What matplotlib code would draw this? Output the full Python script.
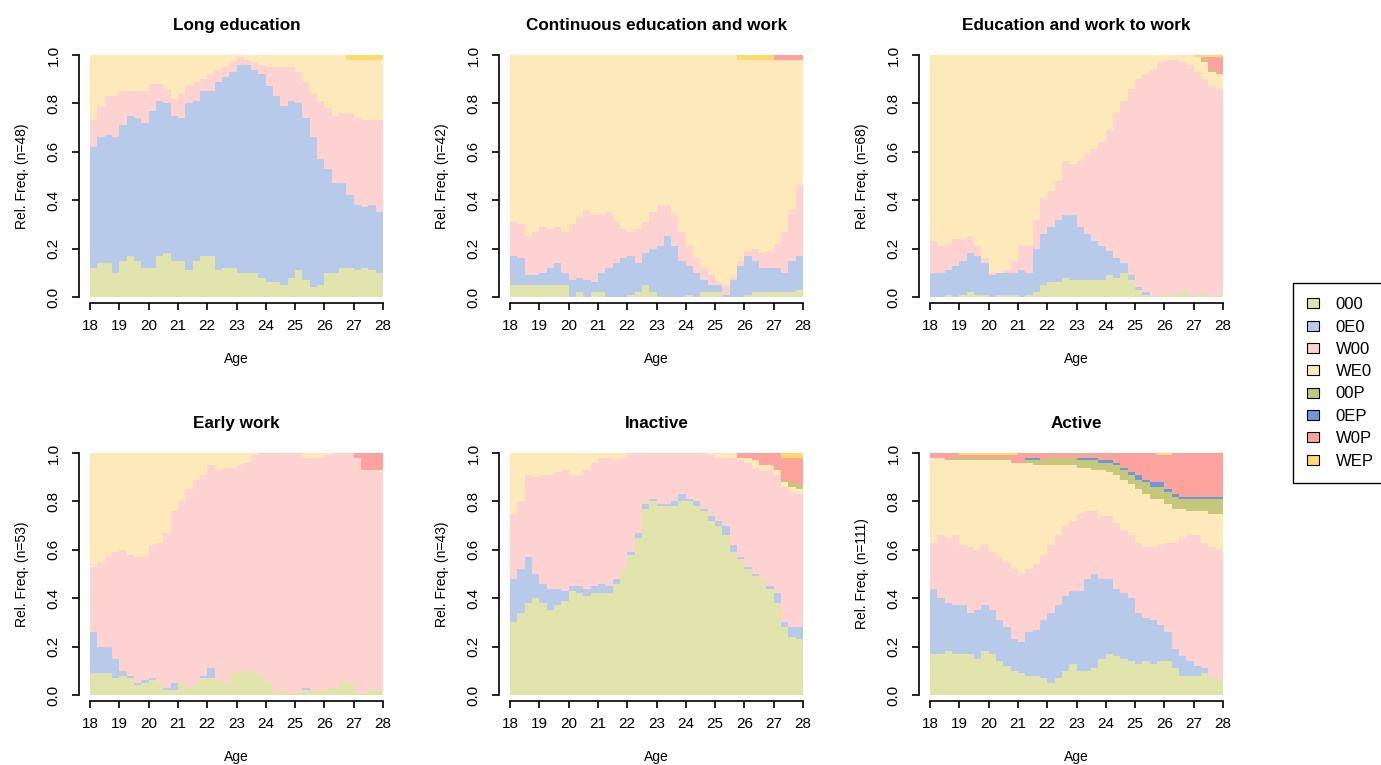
import numpy as np
import matplotlib.pyplot as plt
from matplotlib.patches import Patch

plt.rcParams['font.family'] = ['Liberation Sans', 'DejaVu Sans']

# states (bottom to top) and their colours
states = ["000", "0E0", "W00", "WE0", "00P", "0EP", "W0P", "WEP"]
state_colors = ["#E2E4AD", "#B8CAE9", "#FDD2D0", "#FEE9BA",
                "#C4C87A", "#6C9AD8", "#FBA39C", "#FED96E"]

age_start, age_end = 18, 28
age_ticks = list(range(18, 29))

# percentages per quarter year, 18.00 -> 27.75
# Long education (n=48)
le_000 = [12,14,14,10,15,17,15,12,12,17,18,15,15,11,15,17,17,11,12,12,10,10,10,8,6,6,5,8,11,7,4,5,10,10,12,12,11,12,11,10]
le_0E0 = [50,52,53,56,56,58,59,60,65,64,62,60,59,69,66,68,68,78,79,81,86,86,84,84,81,77,74,73,69,67,62,52,43,37,35,30,27,25,27,25]
le_W00 = [11,13,16,17,14,10,11,13,11,7,6,7,10,7,8,5,7,5,4,4,3,2,3,4,8,12,16,14,13,15,18,24,25,28,29,34,36,36,35,38]
le_WE0 = [27,21,17,17,15,15,15,15,12,12,14,18,16,13,11,10,8,6,5,3,1,2,3,4,5,5,5,5,7,11,16,19,22,25,24,22,24,25,25,25]
le_WEP = [0,0,0,0,0,0,0,0,0,0,0,0,0,0,0,0,0,0,0,0,0,0,0,0,0,0,0,0,0,0,0,0,0,0,0,2,2,2,2,2]

# Continuous education and work (n=42)
ce_000 = [5,5,5,5,5,5,5,5,0,2,0,2,2,0,0,0,1,2,5,2,0,0,0,0,1,0,2,2,2,0,0,0,1,2,2,2,2,2,2,3]
ce_0E0 = [12,11,4,4,5,7,9,5,7,6,7,4,8,12,14,16,16,12,13,18,21,25,21,15,12,10,5,3,3,1,7,13,16,13,10,10,10,8,13,14]
ce_W00 = [14,14,16,18,19,16,15,17,23,25,29,28,24,23,17,12,10,14,13,15,17,13,13,12,8,6,5,4,1,4,1,2,2,5,6,7,10,17,21,29]
ce_WE0 = [69,70,75,73,71,72,71,73,70,67,64,66,66,65,69,72,73,72,69,65,62,62,66,73,79,84,88,91,94,95,92,83,79,78,80,79,76,71,62,52]
ce_W0P = [0,0,0,0,0,0,0,0,0,0,0,0,0,0,0,0,0,0,0,0,0,0,0,0,0,0,0,0,0,0,0,0,0,0,0,0,2,2,2,2]
ce_WEP = [0,0,0,0,0,0,0,0,0,0,0,0,0,0,0,0,0,0,0,0,0,0,0,0,0,0,0,0,0,0,0,2,2,2,2,2,0,0,0,0]

# Education and work to work (n=68)
ew_000 = [0,0,1,0,1,2,1,1,0,1,1,1,0,1,2,5,6,6,8,7,7,7,7,7,9,8,10,7,3,1,0,1,1,1,3,1,1,2,0,1]
ew_0E0 = [10,10,10,13,14,16,16,13,9,9,9,9,11,9,18,21,23,26,26,27,22,19,16,14,10,8,4,2,1,1,0,0,0,0,0,0,0,0,0,0]
ew_W00 = [13,11,11,11,9,7,4,2,1,0,1,5,10,11,12,15,15,16,22,21,27,33,38,43,50,60,67,77,86,90,94,96,97,97,94,95,92,88,87,85]
ew_WE0 = [77,79,78,76,76,75,79,84,90,90,89,85,79,79,68,59,56,52,44,45,44,41,39,36,31,24,19,14,10,8,6,3,2,2,3,4,6,7,6,6]
ew_00P = [0,0,0,0,0,0,0,0,0,0,0,0,0,0,0,0,0,0,0,0,0,0,0,0,0,0,0,0,0,0,0,0,0,0,0,0,0,1,1,0]
ew_W0P = [0,0,0,0,0,0,0,0,0,0,0,0,0,0,0,0,0,0,0,0,0,0,0,0,0,0,0,0,0,0,0,0,0,0,0,0,0,1,5,7]
ew_WEP = [0,0,0,0,0,0,0,0,0,0,0,0,0,0,0,0,0,0,0,0,0,0,0,0,0,0,0,0,0,0,0,0,0,0,0,0,1,1,1,1]

# Early work (n=53)
wk_000 = [9,9,9,7,8,7,4,5,6,5,2,2,5,3,5,7,7,6,5,9,10,9,10,8,5,1,2,1,1,2,2,2,3,3,6,5,1,1,2,2]
wk_0E0 = [17,11,11,8,2,1,1,1,1,0,1,3,0,0,0,1,4,0,0,0,0,0,0,0,0,0,0,0,0,1,0,0,0,0,0,0,0,0,0,0]
wk_W00 = [27,35,37,44,50,50,52,51,55,58,64,71,75,82,84,83,84,87,89,85,85,87,89,92,95,99,98,99,99,95,96,96,96,97,94,95,97,92,91,90]
wk_WE0 = [47,45,43,41,40,42,43,43,38,37,33,24,20,15,11,9,5,7,6,6,5,4,1,0,0,0,0,0,0,2,2,2,1,0,0,0,0,0,0,1]
wk_W0P = [0,0,0,0,0,0,0,0,0,0,0,0,0,0,0,0,0,0,0,0,0,0,0,0,0,0,0,0,0,0,0,0,0,0,0,0,2,7,7,7]

# Inactive (n=43)
in_000 = [30,34,38,40,38,35,37,39,43,42,41,42,42,42,46,52,58,65,77,80,78,78,78,80,80,78,76,72,70,66,59,56,52,49,48,44,38,28,24,23]
in_0E0 = [18,18,19,10,8,9,7,4,2,3,3,3,4,3,2,0,1,2,2,1,1,1,2,3,1,2,1,2,2,4,3,1,1,1,0,1,4,2,4,5]
in_W00 = [27,28,34,40,45,47,48,50,46,46,49,51,52,53,49,46,41,33,21,19,21,21,20,17,19,20,23,25,26,28,36,40,43,44,45,48,49,56,56,55]
in_WE0 = [25,20,9,10,9,9,8,7,9,9,7,4,2,2,3,2,0,0,0,0,0,0,0,0,0,0,0,1,2,2,2,1,2,3,2,2,2,2,2,2]
in_00P = [0,0,0,0,0,0,0,0,0,0,0,0,0,0,0,0,0,0,0,0,0,0,0,0,0,0,0,0,0,0,0,0,0,0,0,0,0,1,2,2]
in_W0P = [0,0,0,0,0,0,0,0,0,0,0,0,0,0,0,0,0,0,0,0,0,0,0,0,0,0,0,0,0,0,0,2,2,3,5,5,7,9,10,11]
in_WEP = [0,0,0,0,0,0,0,0,0,0,0,0,0,0,0,0,0,0,0,0,0,0,0,0,0,0,0,0,0,0,0,0,0,0,0,0,0,2,2,2]

# Active (n=111)
ac_000 = [17,17,18,17,17,17,15,18,17,14,12,10,9,8,8,7,5,7,10,13,10,10,11,15,17,16,15,14,13,14,13,14,14,11,8,8,8,9,7,6]
ac_0E0 = [27,23,20,20,20,17,20,19,18,17,16,13,13,18,19,24,29,30,31,30,33,38,39,33,31,28,27,26,21,18,18,15,12,8,8,6,4,2,0,0]
ac_W00 = [19,26,27,29,25,27,25,25,24,26,27,29,28,26,27,27,28,29,29,29,32,28,26,26,26,27,26,26,29,29,30,33,37,44,49,52,54,52,54,54]
ac_WE0 = [35,32,32,31,35,36,37,35,38,40,42,44,46,44,41,37,33,29,25,23,19,18,17,19,18,20,21,21,22,22,20,19,16,14,12,10,10,13,14,15]
ac_00P = [0,0,0,1,1,1,1,1,1,1,1,0,0,1,2,2,3,3,3,3,3,3,4,3,4,4,4,4,4,5,5,5,5,5,4,5,5,5,6,6]
ac_0EP = [0,0,0,0,0,0,0,0,0,0,0,0,0,1,1,0,0,0,0,0,1,1,1,1,1,1,1,1,2,1,2,2,1,1,1,1,1,1,1,1]
ac_W0P = [2,2,3,2,1,1,1,1,1,1,1,3,4,2,2,3,2,2,2,2,2,2,2,3,3,4,6,8,9,11,12,11,14,17,18,18,18,18,18,18]
ac_WEP = [0,0,0,0,1,1,1,1,1,1,1,1,0,0,0,0,0,0,0,0,0,0,0,0,0,0,0,0,0,0,0,1,1,0,0,0,0,0,0,0]

panels = [
    ("Long education", 48, {"000": le_000, "0E0": le_0E0, "W00": le_W00, "WE0": le_WE0, "WEP": le_WEP}),
    ("Continuous education and work", 42, {"000": ce_000, "0E0": ce_0E0, "W00": ce_W00, "WE0": ce_WE0,
                                           "W0P": ce_W0P, "WEP": ce_WEP}),
    ("Education and work to work", 68, {"000": ew_000, "0E0": ew_0E0, "W00": ew_W00, "WE0": ew_WE0,
                                        "00P": ew_00P, "W0P": ew_W0P, "WEP": ew_WEP}),
    ("Early work", 53, {"000": wk_000, "0E0": wk_0E0, "W00": wk_W00, "WE0": wk_WE0, "W0P": wk_W0P}),
    ("Inactive", 43, {"000": in_000, "0E0": in_0E0, "W00": in_W00, "WE0": in_WE0,
                      "00P": in_00P, "W0P": in_W0P, "WEP": in_WEP}),
    ("Active", 111, {"000": ac_000, "0E0": ac_0E0, "W00": ac_W00, "WE0": ac_WE0,
                     "00P": ac_00P, "0EP": ac_0EP, "W0P": ac_W0P, "WEP": ac_WEP}),
]

W, H = 1381, 765
fig = plt.figure(figsize=(W / 100, H / 100), dpi=100)

col_left = [90, 510, 930]
row_top = [55, 453]
pw, ph = 293, 242

for k, (title, n, series) in enumerate(panels):
    r, c = divmod(k, 3)
    ax = fig.add_axes([col_left[c] / W, 1 - (row_top[r] + ph) / H, pw / W, ph / H])

    nbin = len(series["000"])
    vals = np.array([series.get(s, [0] * nbin) for s in states], dtype=float)
    vals = vals / vals.sum(axis=0)
    vals = np.hstack([vals, vals[:, -1:]])
    edges = np.linspace(age_start, age_end, nbin + 1)
    ax.stackplot(edges, vals, colors=state_colors, step="post", linewidth=0)

    ax.set_xlim(age_start, age_end)
    ax.set_ylim(0, 1)
    for s in ["top", "right"]:
        ax.spines[s].set_visible(False)
    ax.spines["left"].set_position(("outward", 8))
    ax.spines["bottom"].set_position(("outward", 4))
    ax.spines["left"].set_bounds(0, 1)
    ax.spines["bottom"].set_bounds(age_start, age_end)
    for s in ["left", "bottom"]:
        ax.spines[s].set_linewidth(1.2)

    ax.set_xticks(age_ticks)
    ax.set_yticks([0, 0.2, 0.4, 0.6, 0.8, 1.0])
    ax.set_yticklabels(["0.0", "0.2", "0.4", "0.6", "0.8", "1.0"], rotation=90, va="center")
    ax.tick_params(axis="both", length=5, width=1.2, labelsize=11)
    ax.tick_params(axis="x", pad=7)
    ax.tick_params(axis="y", pad=8)

    ax.set_title(title, fontsize=12.3, fontweight="bold", pad=18)
    ax.text(-0.232, 0.5, f"Rel. Freq. (n={n})", transform=ax.transAxes,
            rotation=90, ha="center", va="center", fontsize=10)
    ax.text(0.5, -0.256, "Age", transform=ax.transAxes,
            ha="center", va="center", fontsize=10)

handles = [Patch(facecolor=col, edgecolor="black", linewidth=0.8) for col in state_colors]
leg = fig.legend(handles, states, loc="upper left",
                 bbox_to_anchor=(1293 / W, 1 - 283 / H), borderaxespad=0,
                 fontsize=12, frameon=True, fancybox=False, edgecolor="black",
                 framealpha=1, handlelength=0.7, handleheight=0.55,
                 handletextpad=1.0, labelspacing=0.44, borderpad=0.85)
leg.get_frame().set_linewidth(1.0)

fig.savefig("out.png", dpi=100)
